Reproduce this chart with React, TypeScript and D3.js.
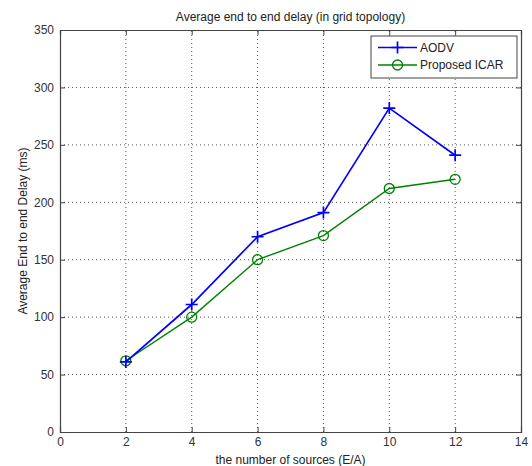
import React, { useEffect, useRef } from "react";
import * as d3 from "d3";

const sources = [2, 4, 6, 8, 10, 12];
const aodv = [61, 111, 170, 191, 282, 241];
const icar = [62, 100, 150, 171, 212, 220];
const xTicks = [0, 2, 4, 6, 8, 10, 12, 14];
const yTicks = [0, 50, 100, 150, 200, 250, 300, 350];

export default function App() {
  const svgRef = useRef<SVGSVGElement | null>(null);

  useEffect(() => {
    const width = 532;
    const height = 466;
    const margin = { top: 30, right: 11, bottom: 34, left: 60 };
    const font = "Liberation Sans, Arial, sans-serif";

    const svg = d3.select(svgRef.current);
    svg.selectAll("*").remove();
    svg.attr("width", width).attr("height", height);

    svg.append("rect").attr("width", width).attr("height", height).attr("fill", "#fff");

    const x = d3.scaleLinear().domain([0, 14]).range([margin.left, width - margin.right]);
    const y = d3.scaleLinear().domain([0, 350]).range([height - margin.bottom, margin.top]);
    const [x0, x1] = x.range();
    const [y0, y1] = y.range();

    // grid
    const grid = svg.append("g").attr("stroke", "#555").attr("stroke-width", 1).attr("stroke-dasharray", "1,3");
    xTicks.slice(1, -1).forEach((t) => {
      grid.append("line").attr("x1", x(t)).attr("x2", x(t)).attr("y1", y0).attr("y2", y1);
    });
    yTicks.slice(1, -1).forEach((t) => {
      grid.append("line").attr("y1", y(t)).attr("y2", y(t)).attr("x1", x0).attr("x2", x1);
    });

    // axes
    const bottom = svg
      .append("g")
      .attr("transform", `translate(0,${y0})`)
      .call(d3.axisBottom(x).tickValues(xTicks).tickSize(-5).tickPadding(5));
    const left = svg
      .append("g")
      .attr("transform", `translate(${x0},0)`)
      .call(d3.axisLeft(y).tickValues(yTicks).tickSize(-5).tickPadding(6));
    svg
      .append("g")
      .attr("transform", `translate(0,${y1})`)
      .call(d3.axisTop(x).tickValues(xTicks).tickSize(-5).tickFormat(() => ""));
    svg
      .append("g")
      .attr("transform", `translate(${x1},0)`)
      .call(d3.axisRight(y).tickValues(yTicks).tickSize(-5).tickFormat(() => ""));
    svg.selectAll(".domain").attr("stroke", "#444").attr("stroke-width", 1.2);
    svg.selectAll(".tick line").attr("stroke", "#444");
    [bottom, left].forEach((g) =>
      g.selectAll("text").attr("font-family", font).attr("font-size", 12).attr("fill", "#333")
    );

    // series
    const line = d3
      .line<number>()
      .x((_, i) => x(sources[i]))
      .y((d) => y(d));

    svg
      .append("path")
      .datum(icar)
      .attr("fill", "none")
      .attr("stroke", "#008000")
      .attr("stroke-width", 1.4)
      .attr("d", line);
    svg
      .selectAll(".icar")
      .data(icar)
      .enter()
      .append("circle")
      .attr("cx", (_, i) => x(sources[i]))
      .attr("cy", (d) => y(d))
      .attr("r", 5)
      .attr("fill", "none")
      .attr("stroke", "#008000")
      .attr("stroke-width", 1.3);

    svg
      .append("path")
      .datum(aodv)
      .attr("fill", "none")
      .attr("stroke", "#0000ff")
      .attr("stroke-width", 1.7)
      .attr("d", line);
    const s = 6;
    const plusPath = `M${-s},0H${s}M0,${-s}V${s}`;
    svg
      .selectAll(".aodv")
      .data(aodv)
      .enter()
      .append("path")
      .attr("transform", (d, i) => `translate(${x(sources[i])},${y(d)})`)
      .attr("d", plusPath)
      .attr("stroke", "#0000ff")
      .attr("stroke-width", 1.7);

    // legend
    const lg = svg.append("g");
    lg.append("rect")
      .attr("x", 371)
      .attr("y", 36)
      .attr("width", 146)
      .attr("height", 42)
      .attr("fill", "#fff")
      .attr("stroke", "#444")
      .attr("stroke-width", 1);
    const rows = [
      { name: "AODV", color: "#0000ff", marker: "plus", y: 47.5 },
      { name: "Proposed ICAR", color: "#008000", marker: "circle", y: 65 },
    ];
    rows.forEach((r) => {
      lg.append("line")
        .attr("x1", 378)
        .attr("x2", 417)
        .attr("y1", r.y)
        .attr("y2", r.y)
        .attr("stroke", r.color)
        .attr("stroke-width", 1.6);
      if (r.marker === "plus") {
        lg.append("path")
          .attr("transform", `translate(397.5,${r.y})`)
          .attr("d", plusPath)
          .attr("stroke", r.color)
          .attr("stroke-width", 1.7);
      } else {
        lg.append("circle")
          .attr("cx", 397.5)
          .attr("cy", r.y)
          .attr("r", 5)
          .attr("fill", "none")
          .attr("stroke", r.color)
          .attr("stroke-width", 1.3);
      }
      lg.append("text")
        .attr("x", 420)
        .attr("y", r.y)
        .attr("dy", "0.35em")
        .attr("font-family", font)
        .attr("font-size", 12)
        .attr("fill", "#222")
        .text(r.name);
    });

    // labels
    svg
      .append("text")
      .attr("x", (x0 + x1) / 2)
      .attr("y", 21)
      .attr("text-anchor", "middle")
      .attr("font-family", font)
      .attr("font-size", 12)
      .attr("fill", "#222")
      .text("Average end to end delay (in grid topology)");
    svg
      .append("text")
      .attr("x", (x0 + x1) / 2)
      .attr("y", 464)
      .attr("text-anchor", "middle")
      .attr("font-family", font)
      .attr("font-size", 12)
      .attr("fill", "#222")
      .text("the number of sources (E/A)");
    svg
      .append("text")
      .attr("transform", `translate(27,${(y0 + y1) / 2}) rotate(-90)`)
      .attr("text-anchor", "middle")
      .attr("font-family", font)
      .attr("font-size", 12)
      .attr("fill", "#222")
      .text("Average End to end Delay (ms)");
  }, []);

  return <svg ref={svgRef} style={{ position: "absolute", left: 0, top: 0 }}></svg>;
}
